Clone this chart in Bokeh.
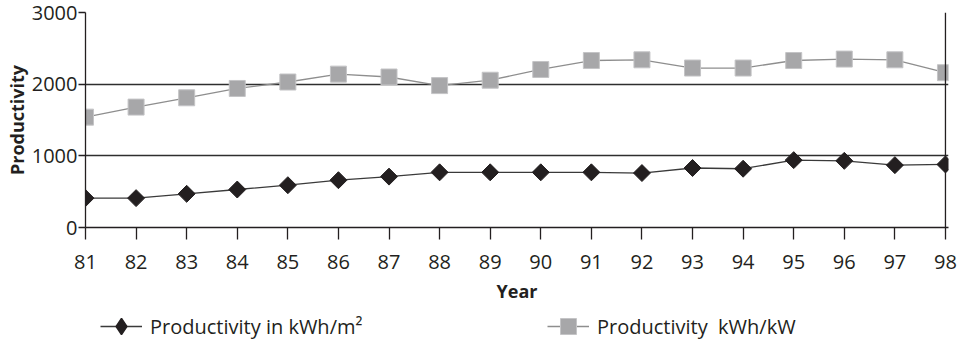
import math
from bokeh.plotting import figure
from bokeh.layouts import column
from bokeh.models import FixedTicker, Span, Legend, LegendItem, Range1d
from bokeh.embed import file_html
from bokeh.resources import INLINE

# ---- data ----
years = [81, 82, 83, 84, 85, 86, 87, 88, 89, 90, 91, 92, 93, 94, 95, 96, 97, 98]
per_m2 = [410, 410, 470, 530, 590, 660, 710, 770, 770, 770, 770, 760, 830, 820, 940, 930, 870, 880]
per_kw = [1540, 1680, 1810, 1940, 2030, 2140, 2100, 1980, 2055, 2205, 2330, 2340, 2225, 2225, 2330, 2350, 2340, 2160]
y_ticks = [0, 1000, 2000, 3000]
grid_ticks = [1000, 2000, 3000]
label_m2 = "Productivity in kWh/m\u00b2"
label_kw = "Productivity\u00a0 kWh/kW"

FONT = "Open Sans"
INK = "#231f20"
M2_LINE = "#3a3a3a"
KW_LINE = "#8e8e8e"
KW_FILL = "#a7a7a9"
KW_EDGE = "#c4c4c6"

p = figure(width=958, height=313, output_backend="svg", toolbar_location=None,
           x_range=Range1d(81, 98.06), y_range=Range1d(0, 3000),
           min_border_left=85, min_border_right=10, min_border_top=12, min_border_bottom=86)
p.outline_line_color = None

# axes
p.xaxis.ticker = FixedTicker(ticks=years)
p.xaxis.axis_label = "Year"
p.xaxis.major_tick_out = 12
p.xaxis.major_tick_in = 0
p.xaxis.minor_tick_out = 0
p.xaxis.minor_tick_in = 0
p.xaxis.major_label_standoff = 15
p.xaxis.axis_label_standoff = 7

p.yaxis.ticker = FixedTicker(ticks=y_ticks)
p.yaxis.axis_label = "Productivity"
p.yaxis.major_tick_out = 7
p.yaxis.major_tick_in = 0
p.yaxis.minor_tick_out = 0
p.yaxis.minor_tick_in = 0
p.yaxis.major_label_standoff = 1
p.yaxis.axis_label_standoff = 0

for ax in (p.xaxis, p.yaxis):
    ax.axis_line_color = INK
    ax.axis_line_width = 1.3
    ax.major_tick_line_color = INK
    ax.major_tick_line_width = 1.3
    ax.major_label_text_font = FONT
    ax.major_label_text_font_size = "20px"
    ax.major_label_text_color = INK
    ax.axis_label_text_font = FONT
    ax.axis_label_text_font_size = "18px"
    ax.axis_label_text_font_style = "bold"
    ax.axis_label_text_color = INK

p.xgrid.grid_line_color = None
p.ygrid.ticker = FixedTicker(ticks=grid_ticks)
p.ygrid.grid_line_color = "#2e2e2e"
p.ygrid.grid_line_width = 1.3

p.add_layout(Span(location=years[-1], dimension="height", line_color=INK, line_width=1.3))

# series
p.line(years, per_m2, line_color=M2_LINE, line_width=1.3)
p.scatter(years, per_m2, marker="square", angle=math.pi / 4, size=12,
          fill_color=INK, line_color=INK)
p.line(years, per_kw, line_color=KW_LINE, line_width=1.3)
p.scatter(years, per_kw, marker="square", size=16,
          fill_color=KW_FILL, line_color=KW_EDGE, line_width=1)

# legend strip below the chart (proxy renderers hold no drawable point)
nan = float("nan")
lg = figure(width=958, height=26, output_backend="svg", toolbar_location=None,
            x_range=Range1d(0, 1), y_range=Range1d(0, 1),
            min_border_left=0, min_border_right=0, min_border_top=0, min_border_bottom=0)
lg.axis.visible = False
lg.grid.visible = False
lg.outline_line_color = None
e1 = lg.line(x=[nan], y=[nan], line_color=M2_LINE, line_width=1.3)
e2 = lg.scatter(x=[nan], y=[nan], marker="diamond", size=16, fill_color=INK,
                line_color=INK, line_width=1.5)
e3 = lg.line(x=[nan], y=[nan], line_color=KW_LINE, line_width=1.3)
e4 = lg.scatter(x=[nan], y=[nan], marker="square", size=16, fill_color=KW_FILL,
                line_color=KW_EDGE, line_width=1)

legend = Legend(
    items=[LegendItem(label=label_m2, renderers=[e1, e2]),
           LegendItem(label=label_kw, renderers=[e3, e4])],
    orientation="horizontal", location=(15, -7),
    glyph_width=42, glyph_height=40, label_standoff=8, label_width=390, spacing=7,
    padding=0, margin=0, border_line_color=None, background_fill_alpha=0,
    label_text_font=FONT, label_text_font_size="20px", label_text_color=INK,
)
lg.add_layout(legend)

open("out.html", "w").write(file_html(column(p, lg, spacing=0), INLINE))
